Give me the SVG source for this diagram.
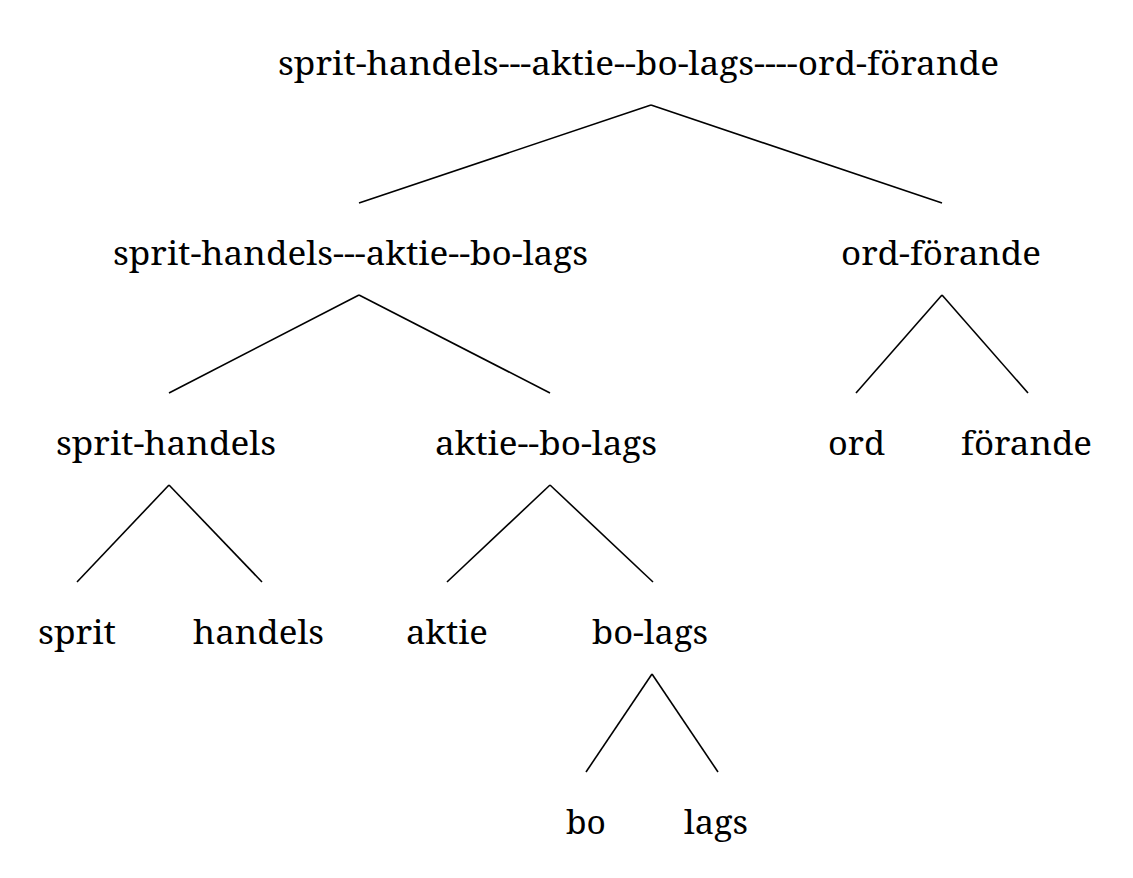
<svg xmlns="http://www.w3.org/2000/svg" width="1133" height="878" viewBox="0 0 1133 878">
<style>
text{font-family:"Noto Serif","DejaVu Serif","Liberation Serif",serif;font-size:32px;fill:#000;text-anchor:middle}
.e line{stroke:#000;stroke-width:1.6;fill:none}
</style>
<rect width="1133" height="878" fill="#fff"/>
<g class="e" id="connectors">
<line x1="651" y1="105" x2="359" y2="203"/><line x1="651" y1="105" x2="942" y2="203"/>
<line x1="359" y1="295" x2="169" y2="393"/><line x1="359" y1="295" x2="550" y2="393"/>
<line x1="942" y1="295" x2="856" y2="393"/><line x1="942" y1="295" x2="1028" y2="393"/>
<line x1="169" y1="485" x2="77" y2="582"/><line x1="169" y1="485" x2="262" y2="582"/>
<line x1="550" y1="485" x2="447" y2="582"/><line x1="550" y1="485" x2="653" y2="582"/>
<line x1="652" y1="674" x2="586" y2="772"/><line x1="652" y1="674" x2="718" y2="772"/>
</g>
<g id="n0"><text x="638.5" y="75" textLength="721" lengthAdjust="spacingAndGlyphs">sprit-handels---aktie--bo-lags----ord-förande</text></g>
<g id="n1"><text x="350.5" y="265" textLength="475" lengthAdjust="spacingAndGlyphs">sprit-handels---aktie--bo-lags</text></g>
<g id="n2"><text x="941" y="265" textLength="200" lengthAdjust="spacingAndGlyphs">ord-förande</text></g>
<g id="n3"><text x="166" y="455" textLength="220" lengthAdjust="spacingAndGlyphs">sprit-handels</text></g>
<g id="n4"><text x="546" y="455" textLength="222" lengthAdjust="spacingAndGlyphs">aktie--bo-lags</text></g>
<g id="n5"><text x="856.5" y="455" textLength="57" lengthAdjust="spacingAndGlyphs">ord</text></g>
<g id="n6"><text x="1026.5" y="455" textLength="131" lengthAdjust="spacingAndGlyphs">förande</text></g>
<g id="n7"><text x="77" y="644" textLength="78" lengthAdjust="spacingAndGlyphs">sprit</text></g>
<g id="n8"><text x="258.5" y="644" textLength="131" lengthAdjust="spacingAndGlyphs">handels</text></g>
<g id="n9"><text x="447" y="644" textLength="82" lengthAdjust="spacingAndGlyphs">aktie</text></g>
<g id="n10"><text x="650" y="644" textLength="116" lengthAdjust="spacingAndGlyphs">bo-lags</text></g>
<g id="n11"><text x="586" y="834" textLength="40" lengthAdjust="spacingAndGlyphs">bo</text></g>
<g id="n12"><text x="716" y="834" textLength="64" lengthAdjust="spacingAndGlyphs">lags</text></g>
</svg>
